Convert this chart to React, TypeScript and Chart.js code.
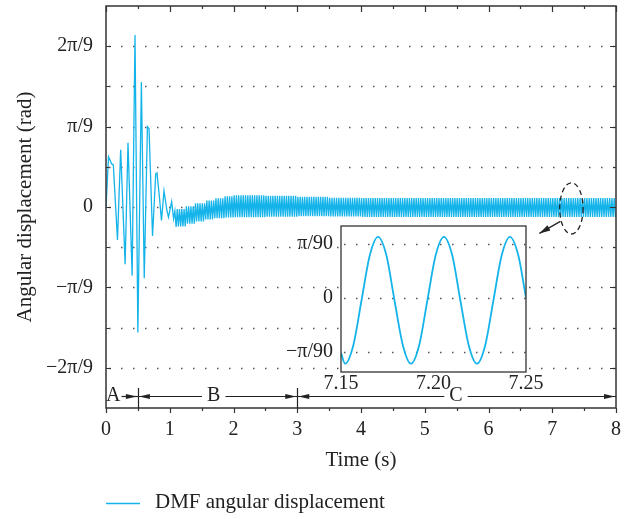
import React, { useEffect, useRef } from 'react';
import { Chart, registerables } from 'chart.js';

Chart.register(...registerables);

const PI = Math.PI;
const FONT = "'Liberation Serif', 'Times New Roman', serif";
const LINE_COLOR = '#14B4EA';
const AXIS_COLOR = '#333333';
const TEXT_COLOR = '#222222';
const GRID_COLOR = '#555555';

// ---- Main series: start-up transient (time s, angle rad) ----
const transientTime = [
  0, 0.04, 0.09, 0.115, 0.18, 0.23, 0.3, 0.345, 0.41, 0.455, 0.5, 0.555, 0.6,
  0.65, 0.675, 0.73, 0.78, 0.8, 0.84, 0.87, 0.91, 0.955, 0.98, 1.03, 1.06, 1.08, 1.1,
];
const transientValue = [
  0, 0.218, 0.187, 0.183, -0.143, 0.248, -0.248, 0.279, -0.298, 0.747, -0.545, 0.543, -0.309,
  0.349, 0.34, -0.126, 0.143, 0.148, 0.037, -0.058, 0.07, -0.014, -0.044, 0.023, -0.051, -0.017, -0.087,
];

// ---- Main series: oscillating band after the transient (peak / trough per time window) ----
const bandKnotTime = [1.1, 1.25, 1.4, 1.55, 1.7, 1.85, 2.0, 2.5, 3.0, 3.5, 4.0];
const bandUpper = [-0.009, 0.003, 0.016, 0.028, 0.038, 0.047, 0.051, 0.049, 0.044, 0.04, 0.039];
const bandLower = [-0.084, -0.073, -0.063, -0.054, -0.049, -0.045, -0.044, -0.042, -0.04, -0.041, -0.043];
const bandPeriod = 0.0357;

// ---- Inset (zoom 7.15 s – 7.25 s) ----
const insetTime = [
  7.15, 7.1522, 7.1567, 7.1611, 7.1656, 7.17, 7.1745, 7.1789, 7.1834, 7.1878, 7.1923, 7.1967,
  7.2012, 7.2056, 7.2101, 7.2145, 7.219, 7.2235, 7.228, 7.2324, 7.2369, 7.2413, 7.2458, 7.25,
];
const insetValue = [
  -0.0356, -0.0426, -0.0305, -0.0016, 0.0276, 0.0394, 0.0276, -0.0016, -0.0305, -0.0426, -0.0305, -0.0016,
  0.0276, 0.0394, 0.0276, -0.0016, -0.0305, -0.0426, -0.0305, -0.0016, 0.0276, 0.0394, 0.0276, 0,
];

// ---- Ticks and labels ----
const xTickValues = [0, 1, 2, 3, 4, 5, 6, 7, 8];
const yTickValues = [-2 * PI / 9, -PI / 9, 0, PI / 9, 2 * PI / 9];
const yTickLabels = ['−2π/9', '−π/9', '0', 'π/9', '2π/9'];
const yGridValues = [-4, -3, -2, -1, 0, 1, 2, 3, 4].map((k) => (k * PI) / 18);
const insetXTickValues = [7.15, 7.2, 7.25];
const insetXTickLabels = ['7.15', '7.20', '7.25'];
const insetYTickValues = [-PI / 90, 0, PI / 90];
const insetYTickLabels = ['−π/90', '0', 'π/90'];

const seriesLabel = 'DMF angular displacement';
const xTitle = 'Time (s)';
const yTitle = 'Angular displacement (rad)';

// Stage annotation A / B / C
const stageBounds = [0, 0.5, 3, 8];
const stageLabels = ['A', 'B', 'C'];
const stageLabelTime = [0.115, 1.69, 5.49];
const zoomMarkTime = 7.3;
const zoomMarkValue = -0.006;

function buildMainPoints() {
  const pts = transientTime.map((t, i) => ({ x: t, y: transientValue[i] }));
  const t0 = transientTime[transientTime.length - 1];
  const half = bandPeriod / 2;
  for (let k = 1; ; k++) {
    const t = t0 + k * half;
    if (t > 8) break;
    let j = 0;
    while (j + 1 < bandKnotTime.length && bandKnotTime[j + 1] <= t) j++;
    pts.push({ x: t, y: k % 2 === 1 ? bandUpper[j] : bandLower[j] });
  }
  return pts;
}

function arrowHead(ctx: CanvasRenderingContext2D, x: number, y: number, dir: number, len = 11, hw = 2.6) {
  ctx.beginPath();
  ctx.moveTo(x, y);
  ctx.lineTo(x - dir * len, y - hw);
  ctx.lineTo(x - dir * len, y + hw);
  ctx.closePath();
  ctx.fill();
}

function dottedH(ctx: CanvasRenderingContext2D, x0: number, x1: number, y: number) {
  ctx.save();
  ctx.strokeStyle = GRID_COLOR;
  ctx.lineWidth = 1.3;
  ctx.setLineDash([1.5, 10.5]);
  ctx.beginPath();
  ctx.moveTo(x0 + 3, Math.round(y) + 0.5);
  ctx.lineTo(x1, Math.round(y) + 0.5);
  ctx.stroke();
  ctx.restore();
}

function fixVertical(width: number) {
  return (s: any) => {
    s.width = width;
    s.paddingTop = 0;
    s.paddingBottom = 0;
  };
}
function fixHorizontal(height: number) {
  return (s: any) => {
    s.height = height;
    s.paddingLeft = 0;
    s.paddingRight = 0;
  };
}

const mainPlugin = {
  id: 'mainDecor',
  beforeDatasetsDraw(chart: any) {
    const { ctx, chartArea: a, scales } = chart;
    yGridValues.forEach((v) => dottedH(ctx, a.left, a.right, scales.y.getPixelForValue(v)));
  },
  afterDraw(chart: any) {
    const { ctx, chartArea: a, scales } = chart;
    const xs = scales.x;
    const ys = scales.y;
    ctx.save();
    // frame
    ctx.strokeStyle = AXIS_COLOR;
    ctx.lineWidth = 1.5;
    ctx.strokeRect(a.left, a.top, a.right - a.left, a.bottom - a.top);
    // ticks
    ctx.lineWidth = 1.2;
    ctx.beginPath();
    for (let i = 0; i <= 16; i++) {
      const t = i * 0.5;
      const px = Math.round(xs.getPixelForValue(t)) + 0.5;
      const major = i % 2 === 0;
      ctx.moveTo(px, a.bottom);
      ctx.lineTo(px, a.bottom + (major ? 5 : 3));
      ctx.moveTo(px, a.top);
      ctx.lineTo(px, a.top + (major ? 6 : 3));
    }
    for (let k = -4; k <= 4; k++) {
      const py = Math.round(ys.getPixelForValue((k * PI) / 18)) + 0.5;
      const major = k % 2 === 0;
      ctx.moveTo(a.left, py);
      ctx.lineTo(a.left + (major ? 5 : 3), py);
      ctx.moveTo(a.right, py);
      ctx.lineTo(a.right - (major ? 6 : 3), py);
    }
    ctx.stroke();

    // axis titles
    ctx.fillStyle = TEXT_COLOR;
    ctx.font = `21px ${FONT}`;
    ctx.textAlign = 'center';
    ctx.textBaseline = 'alphabetic';
    ctx.fillText(xTitle, (a.left + a.right) / 2, 466);
    ctx.save();
    ctx.translate(31, (a.top + a.bottom) / 2);
    ctx.rotate(-PI / 2);
    ctx.fillText(yTitle, 0, 0);
    ctx.restore();

    // legend
    ctx.strokeStyle = LINE_COLOR;
    ctx.lineWidth = 1.5;
    ctx.beginPath();
    ctx.moveTo(106, 503.5);
    ctx.lineTo(140, 503.5);
    ctx.stroke();
    ctx.fillStyle = TEXT_COLOR;
    ctx.textAlign = 'left';
    ctx.textBaseline = 'middle';
    ctx.fillText(seriesLabel, 155, 502);

    // stage annotations
    const ay = 396.5;
    ctx.strokeStyle = '#222';
    ctx.fillStyle = '#222';
    ctx.lineWidth = 1.2;
    ctx.beginPath();
    [stageBounds[1], stageBounds[2]].forEach((t) => {
      const px = Math.round(xs.getPixelForValue(t)) + 0.5;
      ctx.moveTo(px, 388);
      ctx.lineTo(px, a.bottom);
    });
    ctx.stroke();
    ctx.font = `20px ${FONT}`;
    ctx.textAlign = 'center';
    ctx.textBaseline = 'alphabetic';
    for (let i = 0; i < stageLabels.length; i++) {
      const x0 = xs.getPixelForValue(stageBounds[i]);
      const x1 = xs.getPixelForValue(stageBounds[i + 1]);
      const lx = xs.getPixelForValue(stageLabelTime[i]);
      const w = ctx.measureText(stageLabels[i]).width;
      ctx.fillText(stageLabels[i], lx, 401);
      ctx.beginPath();
      if (i > 0) {
        ctx.moveTo(x0, ay);
        ctx.lineTo(lx - w / 2 - 5, ay);
      }
      ctx.moveTo(lx + w / 2 + (i === 0 ? 1 : 5), ay);
      ctx.lineTo(x1, ay);
      ctx.stroke();
      if (i > 0) arrowHead(ctx, x0 + 1, ay, -1);
      arrowHead(ctx, x1 - 1, ay, 1);
    }

    // zoom mark: dashed ellipse + arrow
    const cx = xs.getPixelForValue(zoomMarkTime);
    const cy = ys.getPixelForValue(zoomMarkValue);
    ctx.strokeStyle = '#222';
    ctx.lineWidth = 1.3;
    ctx.setLineDash([5, 3.5]);
    ctx.beginPath();
    ctx.ellipse(cx, cy, 11.7, 25.6, 0, 0, 2 * PI);
    ctx.stroke();
    ctx.setLineDash([]);
    const sx = cx - 11;
    const sy = cy + 13;
    const tx = cx - 32;
    const ty = cy + 25;
    ctx.beginPath();
    ctx.moveTo(sx, sy);
    ctx.lineTo(tx, ty);
    ctx.stroke();
    const ang = Math.atan2(ty - sy, tx - sx);
    ctx.save();
    ctx.translate(tx, ty);
    ctx.rotate(ang);
    arrowHead(ctx, 0, 0, 1, 11, 3);
    ctx.restore();
    ctx.restore();
  },
};

const insetPlugin = {
  id: 'insetDecor',
  beforeDraw(chart: any) {
    const { ctx, chartArea: a } = chart;
    ctx.save();
    ctx.fillStyle = '#ffffff';
    ctx.fillRect(a.left, a.top, a.right - a.left, a.bottom - a.top);
    ctx.restore();
  },
  beforeDatasetsDraw(chart: any) {
    const { ctx, chartArea: a, scales } = chart;
    insetYTickValues.forEach((v) => dottedH(ctx, a.left, a.right, scales.y.getPixelForValue(v)));
  },
  afterDraw(chart: any) {
    const { ctx, chartArea: a } = chart;
    ctx.save();
    ctx.strokeStyle = AXIS_COLOR;
    ctx.lineWidth = 1.3;
    ctx.strokeRect(a.left, a.top, a.right - a.left, a.bottom - a.top);
    ctx.restore();
  },
};

export default function App() {
  const mainRef = useRef<HTMLCanvasElement>(null);
  const insetRef = useRef<HTMLCanvasElement>(null);

  useEffect(() => {
    document.body.style.margin = '0';
    const tickFont = { family: FONT, size: 20 };

    const mainChart = new Chart(mainRef.current as HTMLCanvasElement, {
      type: 'line',
      data: {
        datasets: [
          {
            label: seriesLabel,
            data: buildMainPoints(),
            borderColor: LINE_COLOR,
            borderWidth: 1.3,
            pointRadius: 0,
            tension: 0,
            fill: false,
          },
        ],
      },
      options: {
        responsive: false,
        animation: false,
        devicePixelRatio: 1,
        layout: { padding: { left: 0, top: 6, right: 18, bottom: 0 } },
        plugins: { legend: { display: false }, tooltip: { enabled: false } },
        scales: {
          x: {
            type: 'linear',
            min: 0,
            max: 8,
            grid: { display: false, drawTicks: false },
            border: { display: false },
            afterBuildTicks: (s: any) => {
              s.ticks = xTickValues.map((v) => ({ value: v }));
            },
            afterFit: fixHorizontal(111),
            ticks: {
              font: tickFont,
              color: TEXT_COLOR,
              padding: 10,
              autoSkip: false,
              maxRotation: 0,
              callback: (v: any) => String(v),
            },
          },
          y: {
            type: 'linear',
            min: (-5 * PI) / 18,
            max: (5 * PI) / 18,
            grid: { display: false, drawTicks: false },
            border: { display: false },
            afterBuildTicks: (s: any) => {
              s.ticks = yTickValues.map((v) => ({ value: v }));
            },
            afterFit: fixVertical(106),
            ticks: {
              font: tickFont,
              color: TEXT_COLOR,
              padding: 13,
              autoSkip: false,
              callback: (_v: any, i: number) => yTickLabels[i],
            },
          },
        },
      },
      plugins: [mainPlugin],
    } as any);

    const insetChart = new Chart(insetRef.current as HTMLCanvasElement, {
      type: 'line',
      data: {
        datasets: [
          {
            label: seriesLabel,
            data: insetTime.map((t, i) => ({ x: t, y: insetValue[i] })),
            borderColor: LINE_COLOR,
            borderWidth: 1.8,
            pointRadius: 0,
            cubicInterpolationMode: 'monotone',
            fill: false,
          },
        ],
      },
      options: {
        responsive: false,
        animation: false,
        devicePixelRatio: 1,
        layout: { padding: { left: 0, top: 10, right: 24, bottom: 0 } },
        plugins: { legend: { display: false }, tooltip: { enabled: false } },
        scales: {
          x: {
            type: 'linear',
            min: 7.15,
            max: 7.25,
            grid: { display: false, drawTicks: false },
            border: { display: false },
            afterBuildTicks: (s: any) => {
              s.ticks = insetXTickValues.map((v) => ({ value: v }));
            },
            afterFit: fixHorizontal(34),
            ticks: {
              font: tickFont,
              color: TEXT_COLOR,
              padding: 0,
              autoSkip: false,
              maxRotation: 0,
              callback: (_v: any, i: number) => insetXTickLabels[i],
            },
          },
          y: {
            type: 'linear',
            min: -0.048,
            max: 0.0464,
            grid: { display: false, drawTicks: false },
            border: { display: false },
            afterBuildTicks: (s: any) => {
              s.ticks = insetYTickValues.map((v) => ({ value: v }));
            },
            afterFit: fixVertical(71),
            ticks: {
              font: tickFont,
              color: TEXT_COLOR,
              padding: 8,
              autoSkip: false,
              callback: (_v: any, i: number) => insetYTickLabels[i],
            },
          },
        },
      },
      plugins: [insetPlugin],
    } as any);

    return () => {
      mainChart.destroy();
      insetChart.destroy();
    };
  }, []);

  return (
    <div style={{ position: 'relative', width: 634, height: 519 }}>
      <canvas
        ref={mainRef}
        width={634}
        height={519}
        style={{ position: 'absolute', left: 0, top: 0, display: 'block' }}
      />
      <canvas
        ref={insetRef}
        width={280}
        height={190}
        style={{ position: 'absolute', left: 270, top: 216, display: 'block' }}
      />
    </div>
  );
}
